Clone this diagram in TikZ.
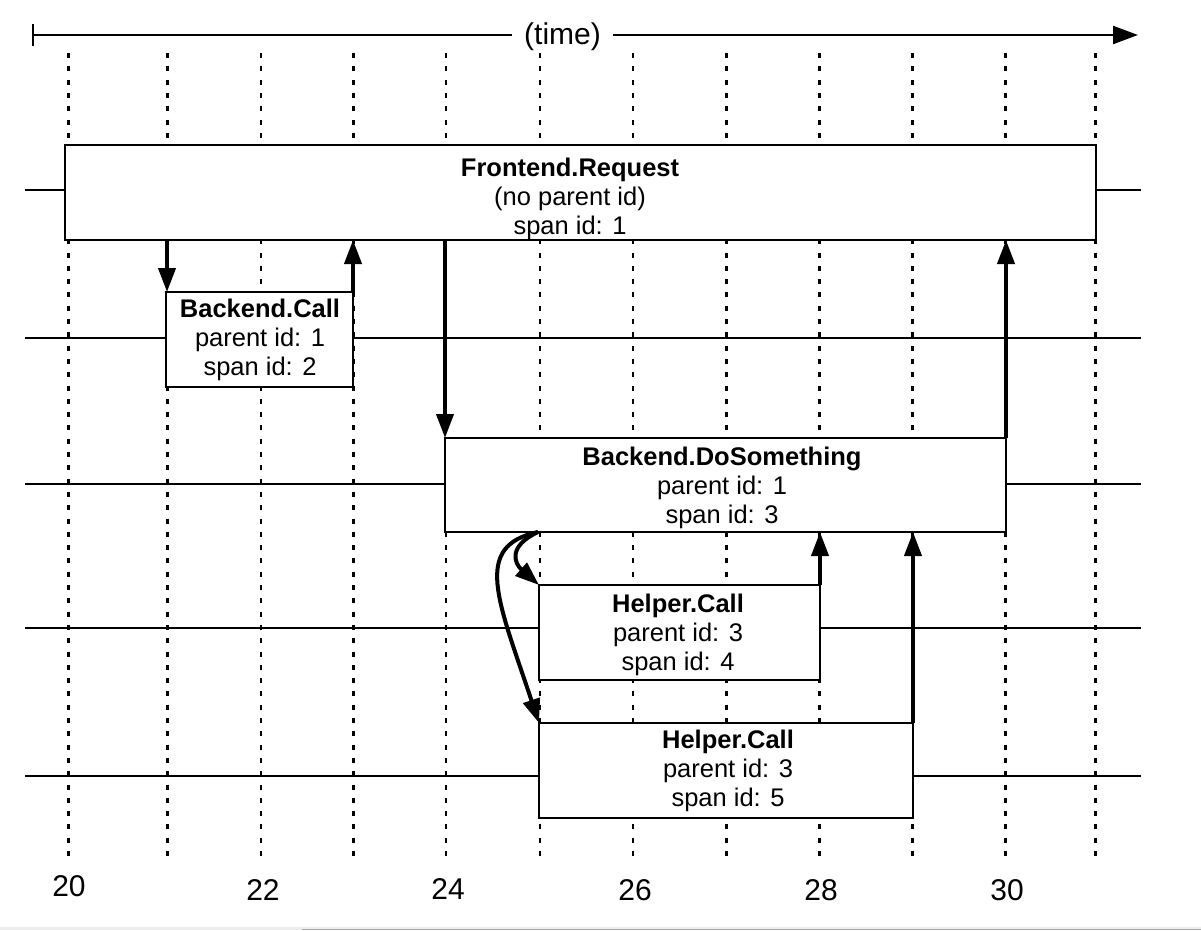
\documentclass[tikz,border=0pt]{standalone}
\usepackage{fontspec}
\setmainfont{Liberation Sans}
\usetikzlibrary{arrows.meta}
\tikzset{
  dotline/.style={line width=2.5pt, dash pattern=on 5pt off 8.3pt},
  rowline/.style={line width=2pt},
  spanbox/.style={draw, line width=2.2pt, fill=white, rectangle, inner sep=0pt, outer sep=0pt, anchor=north west},
  spantext/.style={align=center, inner sep=0pt, font=\fontsize{25.5}{29}\selectfont},
  callarrow/.style={line width=4pt, -{Triangle[length=24pt,width=17pt]}},
  axisline/.style={line width=2.3pt},
  ticklabel/.style={inner sep=0pt, font=\fontsize{30}{34}\selectfont},
}
\begin{document}
\begin{tikzpicture}[x=1pt,y=-1pt]
\useasboundingbox (0,0) rectangle (1201,930);
% bottom strip
\fill[black!7] (0,927) rectangle (1201,930);
\fill[black!35] (302,928.5) rectangle (1201,930);
% time axis
\node[ticklabel, inner xsep=12pt] (tl) at (562.5,37) {(time)};
\coordinate (t0) at (32,35);
\coordinate (t1) at (1138,35);
\draw[axisline, {Bar[width=22pt]}-] (t0) -- (tl.west |- t0);
\draw[axisline, -{Triangle[length=25pt,width=18pt]}] (tl.east |- t1) -- (t1);
% dotted time grid
\foreach \x in {68.5,167.5,261,353.5,446,540,633,726.5,819.5,912.5,1005.5,1095.5}
  \draw[dotline] (\x,53) -- (\x,862);
% row lines
\foreach \y/\n in {190/1,338/2,484/3,628/4,776/5}{
  \coordinate (r\n l) at (25,\y);
  \coordinate (r\n r) at (1141,\y);
  \draw[rowline] (r\n l) -- (r\n r);
}
% span boxes
\node[spanbox, minimum width=1031pt, minimum height=95pt] (fr) at (65,145) {};
\node[spanbox, minimum width=187pt, minimum height=95pt] (bc) at (166,292) {};
\node[spanbox, minimum width=561pt, minimum height=94pt] (ds) at (445,438) {};
\node[spanbox, minimum width=281pt, minimum height=95pt] (h4) at (539,585) {};
\node[spanbox, minimum width=374pt, minimum height=95pt] (h5) at (539,723) {};
% texts
\node[spantext] (frt) at (570,199) {\textbf{Frontend.Request}\\(no parent id)\\span id: 1};
\node[spantext] (bct) at (260,340) {\textbf{Backend.Call}\\parent id: 1\\span id: 2};
\node[spantext] (dst) at (722,488) {\textbf{Backend.DoSomething}\\parent id: 1\\span id: 3};
\node[spantext] (h4t) at (678,635) {\textbf{Helper.Call}\\parent id: 3\\span id: 4};
\node[spantext] (h5t) at (728,771) {\textbf{Helper.Call}\\parent id: 3\\span id: 5};
% calls and returns
\draw[callarrow] ([xshift=1pt]bc.north west |- fr.south) -- ([xshift=1pt]bc.north west);
\draw[callarrow] (bc.north east) -- (bc.north east |- fr.south);
\draw[callarrow] (ds.north west |- fr.south) -- (ds.north west);
\draw[callarrow] (ds.north east) -- (ds.north east |- fr.south);
\coordinate (fork) at (538,532);
\draw[callarrow] (fork) .. controls (508,546) and (514,563) .. (h4.north west);
\draw[callarrow] (fork) .. controls (472,546) and (498,600) .. (h5.north west);
\draw[callarrow] (h4.north east) -- (h4.north east |- ds.south);
\draw[callarrow] (h5.north east) -- (h5.north east |- ds.south);
% axis numbers
\node[ticklabel] (n20) at (69,886) {20};
\node[ticklabel] (n22) at (263,890) {22};
\node[ticklabel] (n24) at (448,889) {24};
\node[ticklabel] (n26) at (635,890) {26};
\node[ticklabel] (n28) at (821,890) {28};
\node[ticklabel] (n30) at (1007,890) {30};
\end{tikzpicture}
\end{document}
